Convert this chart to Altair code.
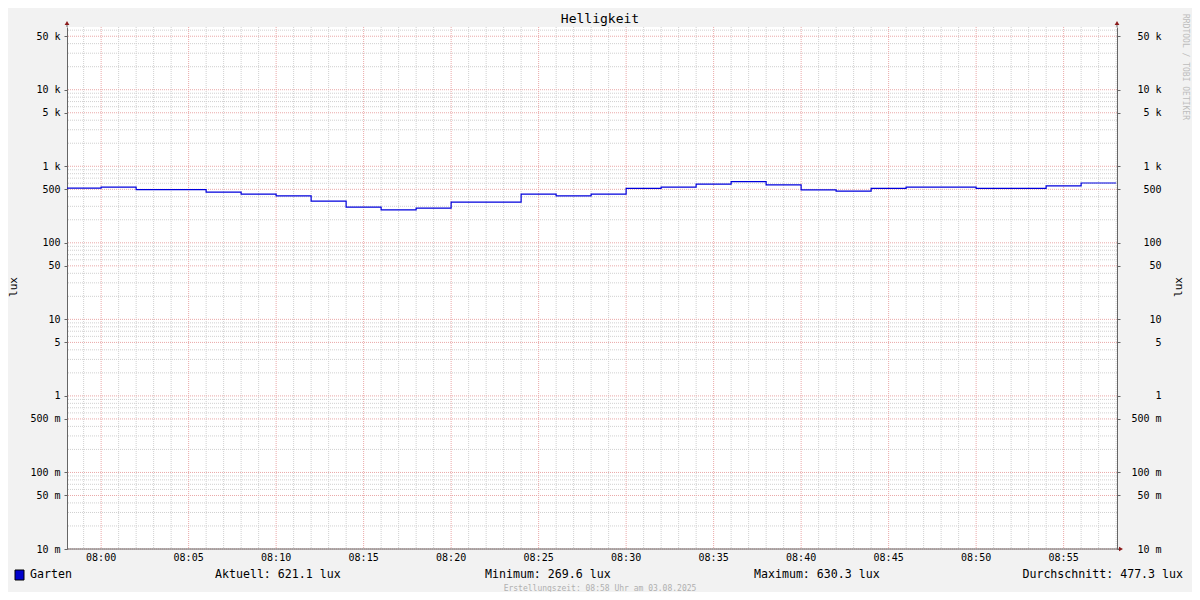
import altair as alt
import pandas as pd

# ---------------- data ----------------
seg_start = ["07:58", "08:00", "08:02", "08:04", "08:06", "08:08", "08:10", "08:12",
             "08:14", "08:16", "08:18", "08:20", "08:22", "08:24", "08:26", "08:28",
             "08:30", "08:32", "08:34", "08:36", "08:38", "08:40", "08:42", "08:44",
             "08:46", "08:48", "08:50", "08:52", "08:54", "08:56"]
seg_end_last = "08:58"
lux = [519, 535, 495, 495, 460, 433, 411, 351, 293, 269.6, 284, 340, 340, 433, 411,
       433, 513, 535, 585, 630.3, 573, 493, 474, 513, 535, 535, 513, 513, 556, 605]

y_tick_values = [0.01, 0.05, 0.1, 0.5, 1, 5, 10, 50, 100, 500, 1000, 5000, 10000, 50000]
y_tick_labels = ["10 m", "50 m", "100 m", "500 m", "1\u00a0\u00a0", "5\u00a0\u00a0",
                 "10\u00a0\u00a0", "50\u00a0\u00a0", "100\u00a0\u00a0", "500\u00a0\u00a0",
                 "1 k", "5 k", "10 k", "50 k"]
x_tick_labels = ["08:00", "08:05", "08:10", "08:15", "08:20", "08:25", "08:30",
                 "08:35", "08:40", "08:45", "08:50", "08:55"]

title_text = "Helligkeit"
unit = "lux"
series_name = "Garten"
stat_names = ["Aktuell", "Minimum", "Maximum", "Durchschnitt"]
stat_values = [621.1, 269.6, 630.3, 477.3]
footer_text = "Erstellungszeit: 08:58 Uhr am 03.08.2025"
side_text = "RRDTOOL / TOBI OETIKER"


def ms(hhmm, sec=0):
    return int(pd.Timestamp(f"2025-08-03T{hhmm}:{sec:02d}", tz="UTC").value // 10**6)


FONT = "DejaVu Sans Mono"

x_start = ms("07:58", 3)
x_end = ms("08:58", 3)
xscale = alt.Scale(type="utc", domain=[x_start, x_end])
yscale = alt.Scale(type="log", domain=[0.01, 66000], nice=False)

df_line = pd.DataFrame({
    "t": [ms(s) for s in seg_start] + [ms(seg_end_last)],
    "v": lux + [lux[-1]],
})

minor_y = [m * 10.0 ** e for e in range(-2, 5) for m in (2, 3, 4, 6, 7, 8, 9)]
minor_y = [v for v in minor_y if v <= 66000]
df_minor_y = pd.DataFrame({"g": minor_y})
df_major_y = pd.DataFrame({"g": y_tick_values})

minutes = [f"{h:02d}:{m:02d}" for h, m in [(7, 59)] + [(8, mm) for mm in range(0, 59)]]
df_minor_x = pd.DataFrame({"t": [ms(m) for m in minutes if int(m[-2:]) % 5 != 0]})
df_major_x = pd.DataFrame({"t": [ms(m) for m in x_tick_labels], "lab": x_tick_labels})

one = pd.DataFrame({"k": [0]})

label_expr = "[" + ",".join(f"'{l}'" for l in y_tick_labels) + "][indexof([" + \
    ",".join(repr(v) for v in y_tick_values) + "], datum.value)]"

GRID_MINOR = "#d0d0d0"
GRID_MAJOR = "#eaa8a8"
AXIS_COL = "#666666"
ARROW_COL = "#8b1a1a"

yaxis_left = alt.Axis(orient="left", values=y_tick_values, labelExpr=label_expr, grid=False,
                      tickSize=3, tickColor=AXIS_COL, domainColor=AXIS_COL, labelFont=FONT,
                      labelFontSize=10, labelColor="#000", labelPadding=4, title=None,
                      labelOverlap=False, labelBound=False, labelFlush=False)
yaxis_right = alt.Axis(orient="right", values=y_tick_values, labelExpr=label_expr, grid=False,
                       tickSize=3, tickColor=AXIS_COL, domainColor=AXIS_COL, labelFont=FONT,
                       labelFontSize=10, labelColor="#000", labelPadding=41, labelAlign="right",
                       title=None, labelOverlap=False, labelBound=False, labelFlush=False)

g_minor_y = alt.Chart(df_minor_y).mark_rule(color=GRID_MINOR, strokeDash=[1, 1], strokeWidth=1).encode(
    y=alt.Y("g:Q", scale=yscale, axis=None))
g_minor_x = alt.Chart(df_minor_x).mark_rule(color=GRID_MINOR, strokeDash=[1, 1], strokeWidth=1).encode(
    x=alt.X("t:T", scale=xscale, axis=None))
g_major_y = alt.Chart(df_major_y).mark_rule(color=GRID_MAJOR, strokeDash=[1, 1], strokeWidth=1).encode(
    y=alt.Y("g:Q", scale=yscale, axis=None))
g_major_x = alt.Chart(df_major_x).mark_rule(color=GRID_MAJOR, strokeDash=[1, 1], strokeWidth=1).encode(
    x=alt.X("t:T", scale=xscale, axis=None))

# x-axis tick labels, placed through the x scale
x_labels = alt.Chart(df_major_x).mark_text(font=FONT, fontSize=10, color="#000",
                                           baseline="middle", align="center").encode(
    x=alt.X("t:T", scale=xscale, axis=None), y=alt.value(531), text="lab:N")

line = alt.Chart(df_line).mark_line(interpolate="step-after", color="#0000dd", strokeWidth=1.2,
                                    clip=True).encode(
    x=alt.X("t:T", scale=xscale, axis=None),
    y=alt.Y("v:Q", scale=yscale, axis=yaxis_left))

right_axis = alt.Chart(df_line).mark_line(opacity=0).encode(
    x=alt.X("t:T", scale=xscale, axis=None),
    y=alt.Y("v:Q", scale=yscale, axis=yaxis_right))


def txt(text, x, y, size=11.6, align="left", color="#000", angle=0, baseline="middle"):
    kw = dict(text=text, font=FONT, fontSize=size, align=align, color=color, baseline=baseline)
    if angle:
        kw["angle"] = angle
    return alt.Chart(one).mark_text(**kw).encode(x=alt.value(x), y=alt.value(y))


arrow_l = alt.Chart(one).mark_point(shape="triangle-up", filled=True, size=22, color=ARROW_COL,
                                    opacity=1).encode(x=alt.value(0), y=alt.value(-4))
arrow_r = alt.Chart(one).mark_point(shape="triangle-up", filled=True, size=22, color=ARROW_COL,
                                    opacity=1).encode(x=alt.value(1050), y=alt.value(-4))
arrow_x = alt.Chart(one).mark_point(shape="triangle-right", filled=True, size=22, color=ARROW_COL,
                                    opacity=1).encode(x=alt.value(1054), y=alt.value(522))
ext_l = alt.Chart(one).mark_rule(color=AXIS_COL).encode(x=alt.value(0), y=alt.value(-3), y2=alt.value(0))
ext_r = alt.Chart(one).mark_rule(color=AXIS_COL).encode(x=alt.value(1050), y=alt.value(-3), y2=alt.value(0))
x_domain = alt.Chart(one).mark_rule(color=AXIS_COL).encode(x=alt.value(0), x2=alt.value(1053), y=alt.value(522))

legend_box = alt.Chart(one).mark_rect(fill="#0000cc", stroke="#000", strokeWidth=1).encode(
    x=alt.value(-52), x2=alt.value(-43), y=alt.value(543), y2=alt.value(553))

texts = [
    txt(title_text, 533, -8, size=13, align="center"),
    txt(unit, -53, 260, size=11, align="center", angle=270),
    txt(unit, 1112, 260, size=11, align="center", angle=270),
    txt(series_name, -37, 548),
    txt(f"{stat_names[0]}: {stat_values[0]:.1f} {unit}", 148, 548),
    txt(f"{stat_names[1]}: {stat_values[1]:.1f} {unit}", 418, 548),
    txt(f"{stat_names[2]}: {stat_values[2]:.1f} {unit}", 687, 548),
    txt(f"{stat_names[3]}: {stat_values[3]:.1f} {unit}", 1116, 548, align="right"),
    txt(footer_text, 533, 562, size=8, align="center", color="#b0b0b0"),
    txt(side_text, 1118, 40, size=8, align="center", color="#bdbdbd", angle=90),
]

chart = alt.layer(
    g_minor_y, g_minor_x, g_major_y, g_major_x, line, right_axis, x_labels,
    ext_l, ext_r, x_domain, arrow_l, arrow_r, arrow_x, legend_box, *texts
).resolve_axis(y="independent").properties(
    width=1050, height=522,
    padding={"left": 59, "top": 19, "right": 75, "bottom": 43},
    autosize="none",
).configure(background="#f2f2f2").configure_view(fill="white", stroke=None)

chart.save("out.html", embed_options={"renderer": "svg", "actions": False})
